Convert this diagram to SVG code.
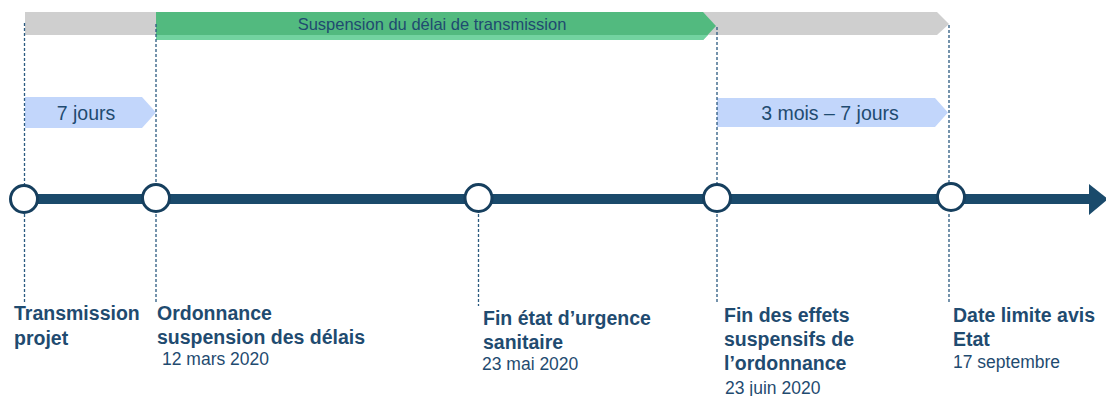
<svg xmlns="http://www.w3.org/2000/svg" width="1106" height="396" viewBox="0 0 1106 396">
<style>
.lbl{font-family:"Liberation Sans",Arial,sans-serif;font-weight:bold;font-size:19.5px;fill:#1F4B70}
.date{font-family:"Liberation Sans",Arial,sans-serif;font-size:17.5px;fill:#1F4B70}
.bar{font-family:"Liberation Sans",Arial,sans-serif;font-size:19.5px;fill:#1F4B70}
.dash{stroke:#2B5A80;stroke-width:1.3;stroke-dasharray:3 2;fill:none}
.node{fill:#fff;stroke:#163F5E;stroke-width:3}
</style>
<g id="periods">
<polygon points="25,12 937,12 949,24 937,35 25,35" fill="#CFCFCF"/>
<polygon points="156,12 703,12 716,26 703,40 156,40" fill="#52BA7F"/>
<polygon points="156,35 708,35 703,40 156,40" fill="#72D3A0"/>
<text x="432" y="30" text-anchor="middle" style="font-family:'Liberation Sans',Arial,sans-serif;font-size:16.5px;fill:#1F4B70">Suspension du délai de transmission</text>
<polygon points="25,97 142,97 156,112.5 142,128 25,128" fill="#C2D6FB"/>
<text x="86" y="120" text-anchor="middle" class="bar">7 jours</text>
<polygon points="717,98 935,98 948,112.5 935,127 717,127" fill="#C2D6FB"/>
<text x="830" y="120" text-anchor="middle" class="bar">3 mois – 7 jours</text>
</g>
<g id="connectors">
<line class="dash" x1="24.5" y1="23" x2="24.5" y2="185"/>
<line class="dash" x1="24.5" y1="214" x2="24.5" y2="302"/>
<line class="dash" x1="156" y1="24" x2="156" y2="185"/>
<line class="dash" x1="156" y1="214" x2="156" y2="302"/>
<line class="dash" x1="478.5" y1="214" x2="478.5" y2="306"/>
<line class="dash" x1="717" y1="27" x2="717" y2="185"/>
<line class="dash" x1="717" y1="214" x2="717" y2="302"/>
<line class="dash" x1="949" y1="25" x2="949" y2="185"/>
<line class="dash" x1="949" y1="214" x2="949" y2="302"/>
<line x1="24" y1="199" x2="1092" y2="199" stroke="#1A4A6B" stroke-width="10"/>
<polygon points="1089,184 1108,199 1089,215" fill="#1A4A6B"/>
</g>
<g id="n1"><circle class="node" cx="24" cy="199" r="13.5"/>
<text class="lbl" x="14" y="320">Transmission</text><text class="lbl" x="14" y="345">projet</text></g>
<g id="n2"><circle class="node" cx="156" cy="198" r="13.5"/>
<text class="lbl" x="157" y="320">Ordonnance</text><text class="lbl" x="157" y="344">suspension des délais</text><text class="date" x="162" y="365">12 mars 2020</text></g>
<g id="n3"><circle class="node" cx="478.5" cy="198" r="13.5"/>
<text class="lbl" x="483" y="325">Fin état d’urgence</text><text class="lbl" x="483" y="349">sanitaire</text><text class="date" x="482" y="370">23 mai 2020</text></g>
<g id="n4"><circle class="node" cx="717" cy="198" r="13.5"/>
<text class="lbl" x="724" y="322">Fin des effets</text><text class="lbl" x="724" y="346">suspensifs de</text><text class="lbl" x="724" y="370">l’ordonnance</text><text class="date" x="725" y="394">23 juin 2020</text></g>
<g id="n5"><circle class="node" cx="951" cy="197" r="13.5"/>
<text class="lbl" x="953" y="322">Date limite avis</text><text class="lbl" x="953" y="346">Etat</text><text class="date" x="953" y="368">17 septembre</text></g>
</svg>
